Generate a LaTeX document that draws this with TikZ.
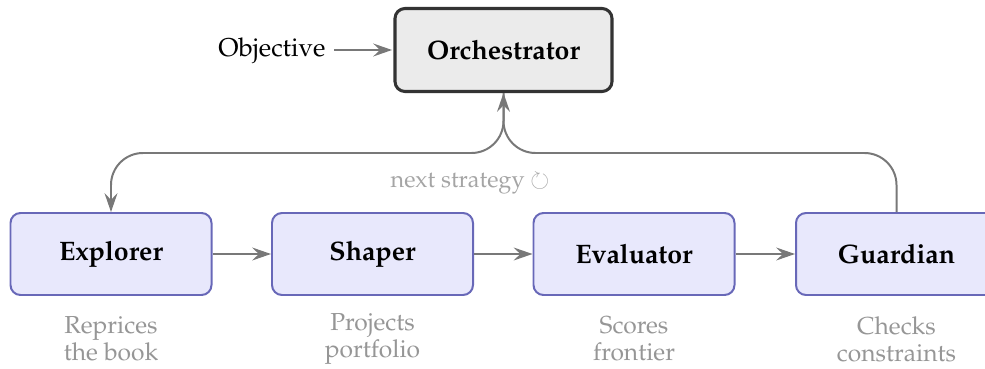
\documentclass[tikz,border=0pt]{standalone}
\usepackage[T1]{fontenc}
\usepackage{mathpazo}
\usepackage{amssymb}
\usetikzlibrary{arrows.meta}
\definecolor{agentfill}{RGB}{232,232,252}
\definecolor{agentborder}{RGB}{104,104,184}
\definecolor{orchfill}{RGB}{235,235,235}
\definecolor{orchborder}{RGB}{51,51,51}
\definecolor{flowgray}{RGB}{120,120,120}
\definecolor{descgray}{RGB}{150,150,150}
\definecolor{lblgray}{RGB}{165,165,165}
\begin{document}
\begin{tikzpicture}[x=0.015cm,y=-0.015cm,
  agent/.style={draw=agentborder, fill=agentfill, line width=0.85pt, rounded corners=0.15cm,
    minimum width=3.015cm, minimum height=1.23cm, inner sep=0pt,
    font=\fontsize{11.4}{13}\selectfont\bfseries},
  orch/.style={draw=orchborder, fill=orchfill, line width=1.3pt, rounded corners=0.15cm,
    minimum width=3.255cm, minimum height=1.245cm, inner sep=0pt,
    font=\fontsize{11.4}{13}\selectfont\bfseries},
  flow/.style={draw=flowgray, line width=0.85pt, -{Stealth[length=8pt,width=5.5pt,inset=2.8pt]}},
  desc/.style={text=descgray, align=center, font=\fontsize{10.5}{11.6}\selectfont},
  plain/.style={inner sep=0pt, font=\fontsize{11}{13}\selectfont}
]
\useasboundingbox (0,0) rectangle (985,369);
\node[orch] (orch) at (503.5,50) {Orchestrator};
\node[plain, anchor=east] (obj) at (326,51) {Objective};
\node[agent] (exp) at (111,254) {Explorer};
\node[agent] (shp) at (372.5,254) {Shaper};
\node[agent] (eva) at (634,254) {Evaluator};
\node[agent] (gua) at (896.5,254) {Guardian};
\coordinate (j) at (503.5,153);

\draw[flow, shorten <=3.5pt, shorten >=0.6pt] (obj.east |- orch.west) -- (orch.west);
\draw[flow] (exp) -- (shp);
\draw[flow] (shp) -- (eva);
\draw[flow] (eva) -- (gua);
\draw[flow, rounded corners=0.48cm] (gua.north) |- (j) -- (orch.south);
\draw[flow, rounded corners=0.48cm] (orch.south) -- (j) -| (exp.north);

\node[text=lblgray, font=\fontsize{10}{12}\selectfont] (lbl) at (470,184) {next strategy $\circlearrowright$};

\node[desc] (d1) at (111,339) {Reprices\\the book};
\node[desc] (d2) at (372.5,339) {Projects\\portfolio};
\node[desc] (d3) at (634,339) {Scores\\frontier};
\node[desc] (d4) at (896.5,339) {Checks\\constraints};
\end{tikzpicture}
\end{document}
